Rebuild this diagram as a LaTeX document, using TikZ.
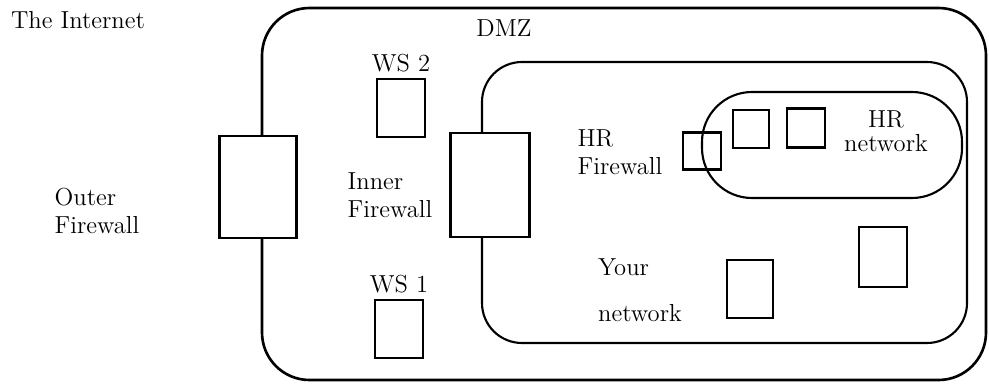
\documentclass[tikz,border=0pt]{standalone}
\usepackage{tikz}
\usetikzlibrary{positioning}

\begin{document}
\begin{tikzpicture}[x=0.02cm, y=-0.02cm,
  zone/.style={draw, line width=1.5pt},
  fw/.style={draw, fill=white, line width=1.3pt},
  host/.style={draw, line width=1.3pt},
  lab/.style={font=\fontsize{14}{16}\selectfont, align=left, inner sep=0pt}
]
\useasboundingbox (0,0) rectangle (989,385);
% zones
\draw[zone, rounded corners=0.95cm] (262,8) rectangle (986,380);
\draw[zone, line width=1.2pt, rounded corners=0.8cm] (482,62) rectangle (967,343);
% firewalls
\node[fw, minimum width=1.54cm, minimum height=2.04cm] (outerfw) at (258,187) {};
\node[fw, minimum width=1.58cm, minimum height=2.08cm] (innerfw) at (490,185) {};
\node[host, minimum width=0.76cm, minimum height=0.74cm] (hrfw) at (702,151) {};
\draw[zone, line width=1.2pt, rounded corners=1cm] (702,92) rectangle (962,198);
% hosts
\node[host, minimum width=0.96cm, minimum height=1.16cm] (ws2) at (401,108) {};
\node[host, minimum width=0.96cm, minimum height=1.16cm] (ws1) at (399,329) {};
\node[host, minimum width=0.72cm, minimum height=0.76cm] (hr1) at (751,129) {};
\node[host, minimum width=0.76cm, minimum height=0.78cm] (hr2) at (806,128) {};
\node[host, minimum width=0.92cm, minimum height=1.16cm] (pc1) at (750,289) {};
\node[host, minimum width=0.96cm, minimum height=1.2cm] (pc2) at (883,257) {};
% labels
\node[lab] (internet) at (78,20) {The Internet};
\node[lab] (dmz) at (504,28) {DMZ};
\node[lab] (outerlab) at (97,211) {Outer\\Firewall};
\node[lab] (innerlab) at (390,195) {Inner\\Firewall};
\node[lab, above=3pt of ws2] (ws2lab) {WS 2};
\node[lab, above=3pt of ws1] (ws1lab) {WS 1};
\node[lab] (hrfwlab) at (620,152) {HR\\Firewall};
\node[lab, align=center, font=\fontsize{14}{13.5}\selectfont] (hrnetlab) at (886,131) {HR\\network};
\node[lab] (yourlab) at (640,290) {Your\\[10pt]network};
\end{tikzpicture}
\end{document}
